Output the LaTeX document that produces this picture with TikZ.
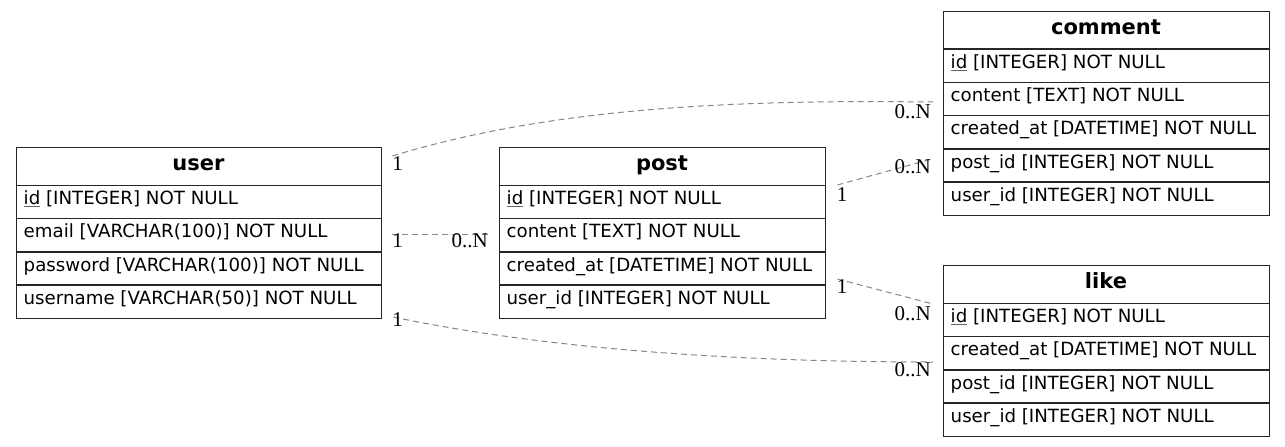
\documentclass[tikz,border=0pt]{standalone}
\usepackage{fontspec}
\setmainfont{DejaVu Sans}
\newfontfamily\cardfont{Liberation Serif}
\usetikzlibrary{calc}

% primary-key field: underlined name
\newcommand\pkey[1]{\leavevmode\setbox0\hbox{#1}\rlap{\color{black!60}\rule[-2.6pt]{\wd0}{0.9pt}}\box0\relax}

\tikzset{
  tbl/.style={draw=black!85, line width=1.4pt, inner sep=0pt, anchor=north west},
  cell/.style={draw=black!85, line width=1.4pt, inner sep=0pt, anchor=north west, minimum height=33.3pt},
  field/.style={anchor=base west, inner sep=0pt, font=\fontsize{18.2}{20}\selectfont},
  title/.style={anchor=base, inner sep=0pt, font=\fontsize{21}{24}\selectfont\bfseries},
  card/.style={inner sep=0pt, font=\cardfont\fontsize{21}{24}\selectfont},
  rel/.style={draw=black!47, line width=1pt, dash pattern=on 6pt off 4pt},
}

% #1 name, #2 left, #3 top, #4 width, #5 title, #6 fields
\newcommand\ertable[6]{%
  \foreach \f [count=\i] in {#6} {
    \node[cell, minimum width=#4pt] (#1-\i) at (#2, {#3+37.5+(\i-1)*33.3}) {};
    \node[field] (#1-t\i) at (#2+7.5, {#3+37.5+(\i-1)*33.3+20}) {\f};
    \xdef\nrows{\i}
  }
  \node[tbl, minimum width=#4pt, minimum height={(37.5+\nrows*33.3)*1pt}] (#1) at (#2,#3) {};
  \node[title] (#1-title) at ({#2+#4/2}, {#3+23.5}) {#5};
}

\begin{document}
\begin{tikzpicture}[x=1pt, y=-1pt]
  \fill[white] (0,0) rectangle (1285,447);
  \useasboundingbox (0,0) rectangle (1285,447);

  \ertable{user}{16}{147}{365}{user}{%
    {\pkey{id} [INTEGER] NOT NULL},
    {email [VARCHAR(100)] NOT NULL},
    {password [VARCHAR(100)] NOT NULL},
    {username [VARCHAR(50)] NOT NULL}}
  \ertable{post}{499}{147}{326}{post}{%
    {\pkey{id} [INTEGER] NOT NULL},
    {content [TEXT] NOT NULL},
    {created\_at [DATETIME] NOT NULL},
    {user\_id [INTEGER] NOT NULL}}
  \ertable{comment}{943}{10.7}{326}{comment}{%
    {\pkey{id} [INTEGER] NOT NULL},
    {content [TEXT] NOT NULL},
    {created\_at [DATETIME] NOT NULL},
    {post\_id [INTEGER] NOT NULL},
    {user\_id [INTEGER] NOT NULL}}
  \ertable{like}{943}{265}{326}{like}{%
    {\pkey{id} [INTEGER] NOT NULL},
    {created\_at [DATETIME] NOT NULL},
    {post\_id [INTEGER] NOT NULL},
    {user\_id [INTEGER] NOT NULL}}

  % relationship end points
  \coordinate (uc) at ($(user.north east)+(10,9)$);
  \coordinate (cu) at ($(comment.north west)+(-10,91.3)$);
  \coordinate (up) at ($(user-2.east)+(10,-1)$);
  \coordinate (pu) at ($(post-2.west)+(-9,-1)$);
  \coordinate (ul) at ($(user.south east)+(11,-2)$);
  \coordinate (lu) at ($(like.north west)+(-10,97)$);
  \coordinate (pc) at ($(post.north east)+(11,38)$);
  \coordinate (cp) at ($(comment.north west)+(-10,148)$);
  \coordinate (pl) at ($(post.north east)+(11,132)$);
  \coordinate (lp) at ($(like.north west)+(-10,39)$);

  % relationships
  \draw[rel] (uc) .. controls +(169,-52) and +(-173,-2) .. (cu);
  \draw[rel] (up) -- (pu);
  \draw[rel] (ul) .. controls +(169,35) and +(-173,0) .. (lu);
  \draw[rel] (pc) -- (cp);
  \draw[rel] (pl) -- (lp);

  % cardinalities
  \node[card, anchor=base] (k1) at (397.5,170) {1};
  \node[card, anchor=base] (k2) at (397.5,247) {1};
  \node[card, anchor=base east] (k3) at (488,247) {0..N};
  \node[card, anchor=base] (k4) at (397.5,326) {1};
  \node[card, anchor=base east] (k5) at (931,118) {0..N};
  \node[card, anchor=base east] (k6) at (931,173) {0..N};
  \node[card, anchor=base] (k7) at (842,201) {1};
  \node[card, anchor=base] (k8) at (842,293) {1};
  \node[card, anchor=base east] (k9) at (931,320) {0..N};
  \node[card, anchor=base east] (k10) at (931,376) {0..N};
\end{tikzpicture}
\end{document}
